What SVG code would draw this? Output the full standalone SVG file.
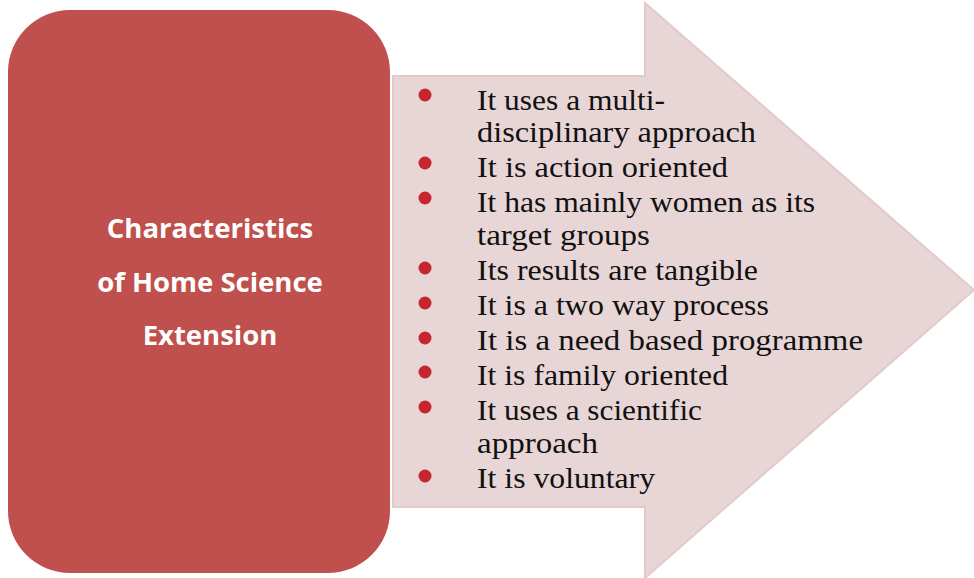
<svg xmlns="http://www.w3.org/2000/svg" width="974" height="578" viewBox="0 0 974 578">
<style>
.title{font-family:"Open Sans","Liberation Sans",sans-serif;font-weight:bold;font-size:27.5px;fill:#ffffff;text-anchor:middle}
.item{font-family:"Liberation Serif","DejaVu Serif",serif;font-size:29px;fill:#111111}
.dot{fill:#C8262E}
</style>
<rect width="974" height="578" fill="#ffffff"/>
<g id="arrow">
<path d="M393,76 L645,76 L645,3 L974,290 L645,578 L645,507 L393,507 Z" fill="#E8D5D6" stroke="#E2CACB" stroke-width="2"/>
</g>
<g id="title-box">
<rect x="8" y="10" width="382" height="563" rx="62" ry="62" fill="#C0504D"/>
<text class="title" x="210" y="238">Characteristics</text>
<text class="title" x="210" y="292">of Home Science</text>
<text class="title" x="210" y="345">Extension</text>
</g>
<g id="list">
<circle class="dot" cx="425" cy="95" r="6.5"/>
<circle class="dot" cx="425" cy="163" r="6.5"/>
<circle class="dot" cx="425" cy="198" r="6.5"/>
<circle class="dot" cx="425" cy="268" r="6.5"/>
<circle class="dot" cx="425" cy="303" r="6.5"/>
<circle class="dot" cx="425" cy="338" r="6.5"/>
<circle class="dot" cx="425" cy="372" r="6.5"/>
<circle class="dot" cx="425" cy="407" r="6.5"/>
<circle class="dot" cx="425" cy="476" r="6.5"/>
<text class="item" x="477" y="110" textLength="188" lengthAdjust="spacingAndGlyphs">It uses a multi-</text>
<text class="item" x="477" y="142" textLength="279" lengthAdjust="spacingAndGlyphs">disciplinary approach</text>
<text class="item" x="477" y="177" textLength="251" lengthAdjust="spacingAndGlyphs">It is action oriented</text>
<text class="item" x="477" y="212" textLength="338" lengthAdjust="spacingAndGlyphs">It has mainly women as its</text>
<text class="item" x="477" y="245" textLength="173" lengthAdjust="spacingAndGlyphs">target groups</text>
<text class="item" x="477" y="280" textLength="281" lengthAdjust="spacingAndGlyphs">Its results are tangible</text>
<text class="item" x="477" y="315" textLength="292" lengthAdjust="spacingAndGlyphs">It is a two way process</text>
<text class="item" x="477" y="350" textLength="386" lengthAdjust="spacingAndGlyphs">It is a need based programme</text>
<text class="item" x="477" y="385" textLength="251" lengthAdjust="spacingAndGlyphs">It is family oriented</text>
<text class="item" x="477" y="420" textLength="225" lengthAdjust="spacingAndGlyphs">It uses a scientific</text>
<text class="item" x="477" y="453" textLength="121" lengthAdjust="spacingAndGlyphs">approach</text>
<text class="item" x="477" y="488" textLength="178" lengthAdjust="spacingAndGlyphs">It is voluntary</text>
</g>
</svg>
